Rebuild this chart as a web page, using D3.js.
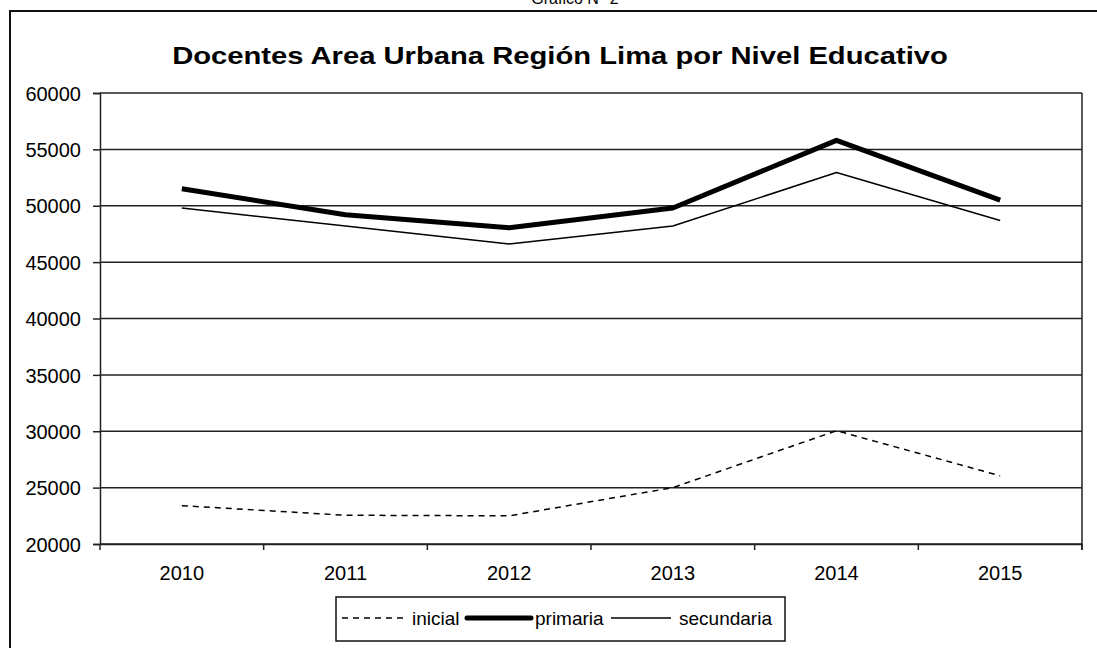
<!DOCTYPE html>
<html>
<head>
<meta charset="utf-8">
<script src="https://cdn.jsdelivr.net/npm/d3@7"></script>
<style>
  body { margin: 0; background: #fff; }
  text { font-family: "Liberation Sans", Arial, sans-serif; fill: #000; }
</style>
</head>
<body>
<div id="chart"></div>
<script>
// Datos del gráfico
const years = ["2010", "2011", "2012", "2013", "2014", "2015"];
const inicial = [23400, 22550, 22500, 25000, 30050, 26050];
const primaria = [51500, 49200, 48050, 49800, 55800, 50500];
const secundaria = [49800, 48200, 46600, 48200, 52950, 48700];
const yTicks = [20000, 25000, 30000, 35000, 40000, 45000, 50000, 55000, 60000];

const series = [
  { name: "inicial", values: inicial, width: 1.5, dash: "6,5" },
  { name: "primaria", values: primaria, width: 5, dash: null },
  { name: "secundaria", values: secundaria, width: 1.5, dash: null },
];

const width = 1097, height = 648;
const plot = { left: 100, right: 1082, top: 93, bottom: 544 };

const svg = d3.select("#chart").append("svg")
  .attr("width", width).attr("height", height);

// Marco exterior
svg.append("rect")
  .attr("x", 10).attr("y", 11)
  .attr("width", width).attr("height", height)
  .attr("fill", "none").attr("stroke", "#111").attr("stroke-width", 2);

// Título superior (cortado en el original)
svg.append("text")
  .attr("x", 575).attr("y", 4)
  .attr("text-anchor", "middle")
  .style("font-size", "16px")
  .text("Gráfico N° 2");

// Título principal, algo estirado en horizontal como en la imagen
svg.append("g")
  .attr("transform", "translate(560,64) scale(1.27,1)")
  .append("text")
  .attr("text-anchor", "middle")
  .style("font-size", "23px").style("font-weight", "bold")
  .text("Docentes Area Urbana Región Lima por Nivel Educativo");

const x = d3.scaleBand().domain(years).range([plot.left, plot.right]);
const y = d3.scaleLinear().domain([20000, 60000]).range([plot.bottom, plot.top]);

// Líneas de cuadrícula
svg.append("g")
  .selectAll("line")
  .data(yTicks)
  .join("line")
  .attr("x1", plot.left).attr("x2", plot.right)
  .attr("y1", d => y(d)).attr("y2", d => y(d))
  .attr("stroke", "#222").attr("stroke-width", 1.5);

// Borde derecho del área
svg.append("line")
  .attr("x1", plot.right).attr("x2", plot.right)
  .attr("y1", plot.top).attr("y2", plot.bottom + 6)
  .attr("stroke", "#222").attr("stroke-width", 1.5);

// Eje Y
const yAxis = svg.append("g")
  .attr("transform", `translate(${plot.left},0)`)
  .call(d3.axisLeft(y).tickValues(yTicks).tickSize(7).tickPadding(12).tickFormat(d3.format("d")));
yAxis.select(".domain").attr("stroke", "#222").attr("stroke-width", 1.5);
yAxis.selectAll(".tick line").attr("stroke", "#222").attr("stroke-width", 1.5);
yAxis.selectAll("text").style("font-size", "20px").attr("font-family", null).attr("dy", "0.36em");

// Eje X
const xAxis = svg.append("g")
  .attr("transform", `translate(0,${plot.bottom})`)
  .call(d3.axisBottom(x).tickSize(0).tickPadding(22));
xAxis.select(".domain").attr("stroke", "#222").attr("stroke-width", 1.5);
xAxis.selectAll("text").style("font-size", "20px").attr("font-family", null);

// Marcas entre categorías
svg.append("g")
  .selectAll("line")
  .data(years.concat(["end"]))
  .join("line")
  .attr("x1", (d, i) => plot.left + i * x.step())
  .attr("x2", (d, i) => plot.left + i * x.step())
  .attr("y1", plot.bottom).attr("y2", plot.bottom + 6)
  .attr("stroke", "#222").attr("stroke-width", 1.5);

// Series
const line = d3.line()
  .x((d, i) => x(years[i]) + x.bandwidth() / 2)
  .y(d => y(d));

svg.append("g")
  .selectAll("path")
  .data(series)
  .join("path")
  .attr("d", d => line(d.values))
  .attr("fill", "none")
  .attr("stroke", "#000")
  .attr("stroke-width", d => d.width)
  .attr("stroke-dasharray", d => d.dash)
  .attr("stroke-linejoin", "round");

// Leyenda
const legend = svg.append("g");
legend.append("rect")
  .attr("x", 336).attr("y", 597)
  .attr("width", 449).attr("height", 44)
  .attr("fill", "none").attr("stroke", "#111").attr("stroke-width", 1.5);

const legendPos = [
  { x1: 342, x2: 406, tx: 412 },
  { x1: 467, x2: 531, tx: 535 },
  { x1: 611, x2: 671, tx: 679 },
];

const item = legend.selectAll("g.item")
  .data(series)
  .join("g")
  .attr("class", "item");

item.append("line")
  .attr("x1", (d, i) => legendPos[i].x1).attr("x2", (d, i) => legendPos[i].x2)
  .attr("y1", 618).attr("y2", 618)
  .attr("stroke", "#000")
  .attr("stroke-width", d => d.width)
  .attr("stroke-dasharray", d => d.dash)
  .attr("stroke-linecap", d => d.width > 2 ? "round" : null);

item.append("text")
  .attr("x", (d, i) => legendPos[i].tx).attr("y", 625)
  .style("font-size", "19px")
  .text(d => d.name);
</script>
</body>
</html>
